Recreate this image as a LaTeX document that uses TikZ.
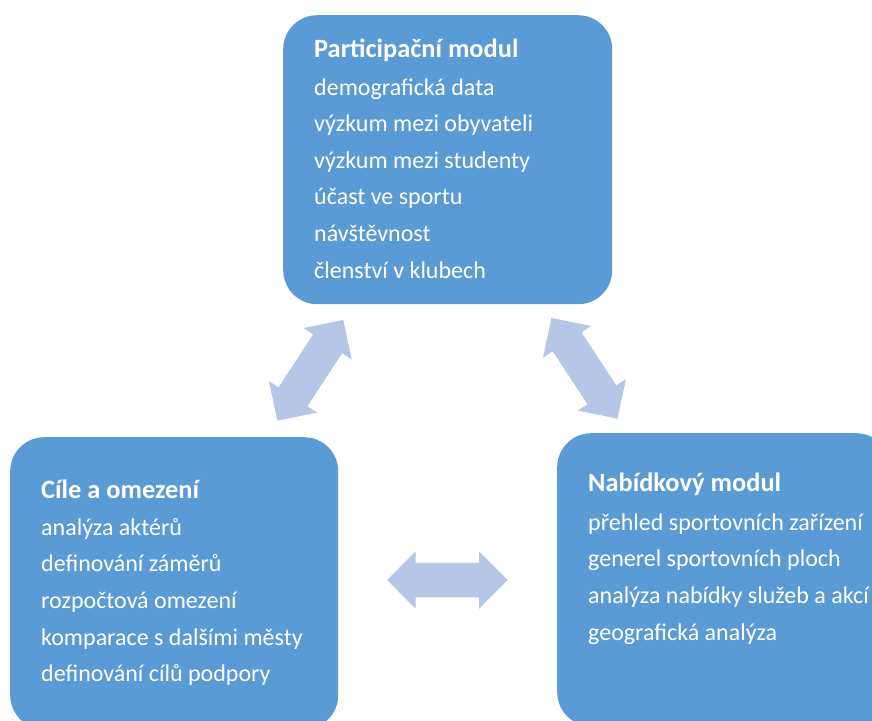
\documentclass[tikz,border=0pt]{standalone}
\usepackage{fontspec}
\setmainfont{Carlito}
\definecolor{boxblue}{HTML}{5B9BD5}
\definecolor{arrowblue}{HTML}{B4C7E7}
\newcommand\dblblockarrow[4]{%
  \begin{scope}[shift={(#1,#2)}, rotate=#3]
    \fill[blockarrow] (60.2,0) -- (31.7,28.75) -- (31.7,17.25) -- (-31.7,17.25) -- (-31.7,28.75)
      -- (-60.2,0) -- (-31.7,-28.75) -- (-31.7,-17.25) -- (31.7,-17.25) -- (31.7,-28.75) -- cycle;
    \coordinate (#4) at (0,0);
  \end{scope}}
\begin{document}
\begin{tikzpicture}[x=1pt,y=-1pt,
  modbox/.style={fill=boxblue, draw=none, rounded corners=34pt, inner sep=0pt, anchor=north west},
  titletext/.style={anchor=base west, inner sep=0pt, text=white, font=\bfseries\fontsize{26.4}{30}\selectfont},
  bodytext/.style={anchor=base west, inner sep=0pt, text=white, font=\fontsize{24}{30}\selectfont},
  blockarrow/.style={fill=arrowblue, draw=none}]
\useasboundingbox (0,0) rectangle (872,720);
\begin{scope}
\clip (0,0) rectangle (872,720);
% boxes
\node[modbox, minimum width=329pt, minimum height=289pt] (part) at (283,15) {};
\node[modbox, minimum width=328pt, minimum height=292pt] (cile) at (10,437) {};
\node[modbox, minimum width=333pt, minimum height=293pt] (nab) at (557,433) {};
% arrows
\dblblockarrow{310.3}{370.3}{56.8}{a1}
\dblblockarrow{584.5}{368.3}{123.3}{a2}
\dblblockarrow{447.3}{580}{0}{a3}
% top box text
\node[titletext] (pt) at (314,57) {Participační modul};
\foreach \t [count=\i] in {demografická data, výzkum mezi obyvateli, výzkum mezi studenty, účast ve sportu, návštěvnost, členství v klubech}
  \node[bodytext] (p\i) at (314,{95+(\i-1)*36.65}) {\t};
% left box text
\node[titletext] (ct) at (41,498) {Cíle a omezení};
\foreach \t [count=\i] in {analýza aktérů, definování záměrů, rozpočtová omezení, komparace s dalšími městy, definování cílů podpory}
  \node[bodytext] (c\i) at (41,{535+(\i-1)*36.7}) {\t};
% right box text
\node[titletext] (nt) at (588,491.7) {Nabídkový modul};
\foreach \t [count=\i] in {přehled sportovních zařízení, generel sportovních ploch, analýza nabídky služeb a akcí, geografická analýza}
  \node[bodytext] (n\i) at (588,{530+(\i-1)*36.7}) {\t};
\end{scope}
\end{tikzpicture}
\end{document}
